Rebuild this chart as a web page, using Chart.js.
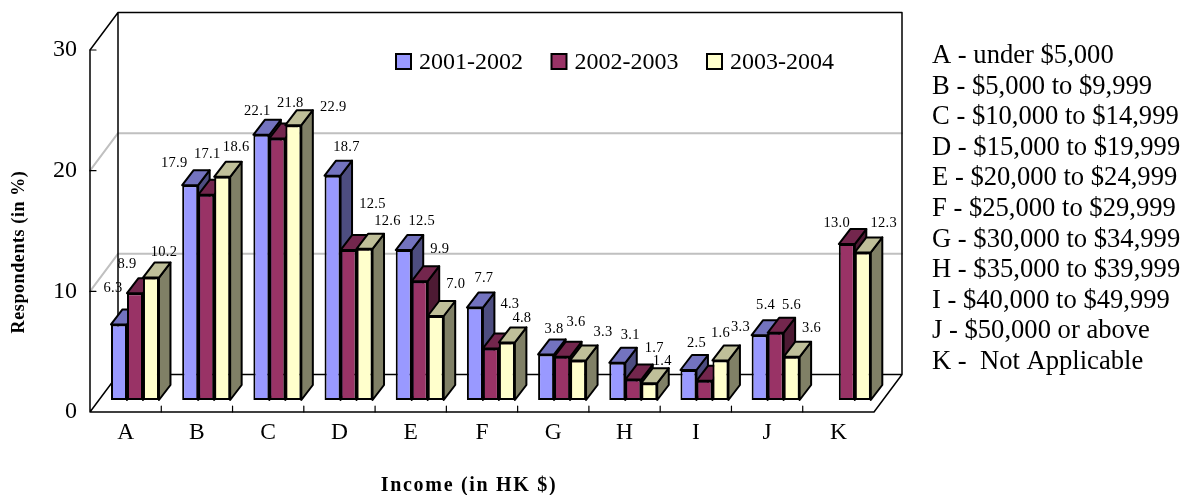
<!DOCTYPE html>
<html>
<head>
<meta charset="utf-8">
<style>html,body{margin:0;padding:0;background:#fff}canvas{display:block}</style>
<script src="https://cdn.jsdelivr.net/npm/chart.js@4"></script>
</head>
<body>
<canvas id="c" width="1190" height="495" style="width:1190px;height:495px"></canvas>
<script>
const categories = ['A','B','C','D','E','F','G','H','I','J','K'];
const seriesNames = ['2001-2002','2002-2003','2003-2004'];
const values2001 = [6.3,17.9,22.1,18.7,12.5,7.7,3.8,3.1,2.5,5.4,null];
const values2002 = [8.9,17.1,21.8,12.5,9.9,4.3,3.6,1.7,1.6,5.6,13.0];
const values2003 = [10.2,18.6,22.9,12.6,7.0,4.8,3.3,1.4,3.3,3.6,12.3];
const yTicks = [0,10,20,30];
const incomeBands = ['A - under $5,000','B - $5,000 to $9,999','C - $10,000 to $14,999','D - $15,000 to $19,999','E - $20,000 to $24,999','F - $25,000 to $29,999','G - $30,000 to $34,999','H - $35,000 to $39,999','I - $40,000 to $49,999','J - $50,000 or above','K -  Not Applicable'];
const yTitle = 'Respondents (in %)';
const xTitle = 'Income (in HK $)';

// label nudges relative to each bar's top centre
const labelNudge = [
 [[-6,-36],[-16,-22],[-4,-24],[14,-28],[18,-29],[9,-29],[8,-25],[13,-28],[8,-27],[6,-30],null],
 [[-8,-29],[1,-41],[13,-35],[24,-46],[20,-32],[19,-44],[14,-35],[21,-31],[16,-48],[16,-28],[-10,-21]],
 [[13,-25],[14,-30],[40,-18],[23,-28],[20,-32],[15,-24],[25,-28],[13,-22],[20,-33],[20,-29],[21,-29]]
];
const faceColors = ['#9999FF','#993366','#FFFFCC'];
const topColors  = ['#7373BF','#73264D','#BFBF99'];
const sideColors = ['#4D4D80','#4D1A33','#808066'];
const SERIF = '"Liberation Serif"';
const BAR_DX = 11.5, BAR_DY = 15;
const WALL_DX = 28, WALL_DY = 37.5;
const OUTLINE = 2;

const allValues = [values2001, values2002, values2003];

const walls = {
  id:'walls',
  beforeDatasetsDraw(chart){
    const {ctx, chartArea:a} = chart, ys = chart.scales.y, xs = chart.scales.x;
    const L=a.left, R=a.right, bL=L+WALL_DX, bR=R+WALL_DX;
    const yAt=v=>ys.getPixelForValue(v);
    ctx.save();
    ctx.lineCap='round'; ctx.lineJoin='round';
    // interior grid
    ctx.strokeStyle='#C0C0C0'; ctx.lineWidth=2;
    yTicks.filter(v=>v>0&&v<30).forEach(v=>{
      const y=yAt(v);
      ctx.beginPath();ctx.moveTo(L,y);ctx.lineTo(bL,y-WALL_DY);ctx.lineTo(bR,y-WALL_DY);ctx.stroke();
    });
    ctx.strokeStyle='#000'; ctx.lineWidth=1.5;
    const y0=yAt(0), yT=yAt(30);
    ctx.beginPath();
    ctx.moveTo(L,yT);ctx.lineTo(L,y0);ctx.lineTo(R,y0);ctx.lineTo(bR,y0-WALL_DY);ctx.lineTo(bL,y0-WALL_DY);ctx.lineTo(L,y0);
    ctx.moveTo(L,yT);ctx.lineTo(bL,yT-WALL_DY);ctx.lineTo(bR,yT-WALL_DY);ctx.lineTo(bR,y0-WALL_DY);
    ctx.moveTo(bL,yT-WALL_DY);ctx.lineTo(bL,y0-WALL_DY);
    ctx.stroke();
    ctx.lineWidth=1.2;
    ctx.beginPath();
    yTicks.filter(v=>v>0).forEach(v=>{ctx.moveTo(L,yAt(v));ctx.lineTo(L+6,yAt(v));});
    for(let i=1;i<categories.length;i++){
      const x=(xs.getPixelForValue(i-1)+xs.getPixelForValue(i))/2;
      ctx.moveTo(x,y0);ctx.lineTo(x,y0-6);
    }
    ctx.stroke();
    // depth faces of every bar, left series first; the library paints the front faces afterwards
    ctx.strokeStyle='#000';ctx.lineWidth=OUTLINE;ctx.lineCap='butt';
    allValues.forEach((vals,i)=>{
      chart.getDatasetMeta(i).data.forEach((b,k)=>{
        if(vals[k]==null) return;
        const p=b.getProps(['x','y','base','width'],true);
        const x0=p.x-p.width/2,x1=p.x+p.width/2,t=p.y,bt=p.base;
        ctx.fillStyle=sideColors[i];
        ctx.beginPath();ctx.moveTo(x1,t);ctx.lineTo(x1+BAR_DX,t-BAR_DY);ctx.lineTo(x1+BAR_DX,bt-BAR_DY);ctx.lineTo(x1,bt);ctx.closePath();ctx.fill();ctx.stroke();
        ctx.fillStyle=topColors[i];
        ctx.beginPath();ctx.moveTo(x0,t);ctx.lineTo(x0+BAR_DX,t-BAR_DY);ctx.lineTo(x1+BAR_DX,t-BAR_DY);ctx.lineTo(x1,t);ctx.closePath();ctx.fill();ctx.stroke();
      });
    });
    ctx.restore();
  }
};

const valueLabels = {
  id:'valueLabels',
  afterDatasetsDraw(chart){
    const {ctx}=chart;
    ctx.save();
    ctx.font='14.5px '+SERIF;ctx.fillStyle='#000';ctx.textAlign='center';ctx.textBaseline='middle';
    ctx.letterSpacing='0.3px';
    allValues.forEach((vals,i)=>{
      const meta=chart.getDatasetMeta(i);
      vals.forEach((v,k)=>{
        if(v==null) return;
        const b=meta.data[k],n=labelNudge[i][k];
        ctx.fillText(v.toFixed(1),b.x+n[0],b.y+n[1]);
      });
    });
    ctx.restore();
  }
};

const sideText = {
  id:'sideText',
  afterDraw(chart){
    const {ctx}=chart;
    ctx.save();
    ctx.fillStyle='#000';ctx.textBaseline='alphabetic';ctx.textAlign='left';
    // legend
    ctx.font='24px '+SERIF;
    seriesNames.forEach((s,i)=>{
      const x=396+155.5*i;
      ctx.fillStyle=faceColors[i];ctx.strokeStyle='#000';ctx.lineWidth=OUTLINE;
      ctx.fillRect(x,54,15,15);ctx.strokeRect(x,54,15,15);
      ctx.fillStyle='#000';
      ctx.fillText(s,x+23,68.5);
    });
    // income key
    ctx.font='26.6px '+SERIF;
    incomeBands.forEach((s,i)=>ctx.fillText(s,932,63+30.6*i));
    // axis titles
    ctx.textAlign='center';
    ctx.font='bold 20px '+SERIF;
    ctx.letterSpacing='1.7px';
    ctx.fillText(xTitle,469,491);
    ctx.font='bold 18px '+SERIF;
    ctx.letterSpacing='0.6px';
    ctx.translate(24,252);ctx.rotate(-Math.PI/2);
    ctx.fillText(yTitle,0,0);
    ctx.restore();
  }
};

new Chart(document.getElementById('c'),{
  type:'bar',
  data:{
    labels:categories,
    datasets:seriesNames.map((n,i)=>({
      label:n,
      data:allValues[i].map((v,k)=>({x:k,y:v})),
      xAxisID:'xBars',yAxisID:'yBars',
      backgroundColor:faceColors[i],borderColor:'#000',borderWidth:OUTLINE,borderSkipped:false,
      categoryPercentage:0.674,barPercentage:1
    }))
  },
  options:{
    responsive:false,animation:false,devicePixelRatio:1,
    layout:{padding:{left:0,top:50,right:316,bottom:0}},
    plugins:{legend:{display:false},tooltip:{enabled:false},title:{display:false}},
    scales:{
      x:{type:'category',offset:true,position:'bottom',
        grid:{display:false,drawTicks:false},border:{display:false},
        ticks:{color:'#000',font:{family:SERIF,size:23.5},padding:7,autoSkip:false,maxRotation:0},
        afterFit(s){s.height=83;}},
      y:{type:'linear',position:'left',min:0,max:30,
        grid:{display:false,drawTicks:false},border:{display:false},
        ticks:{color:'#000',font:{family:SERIF,size:24},padding:13,stepSize:10},
        afterFit(s){s.width=90;}},
      xBars:{type:'linear',display:false,position:'bottom',offset:false,min:-0.632,max:10.382},
      yBars:{type:'linear',display:false,position:'left',min:-1,max:29.17}
    }
  },
  plugins:[walls,valueLabels,sideText]
});
</script>
</body>
</html>
